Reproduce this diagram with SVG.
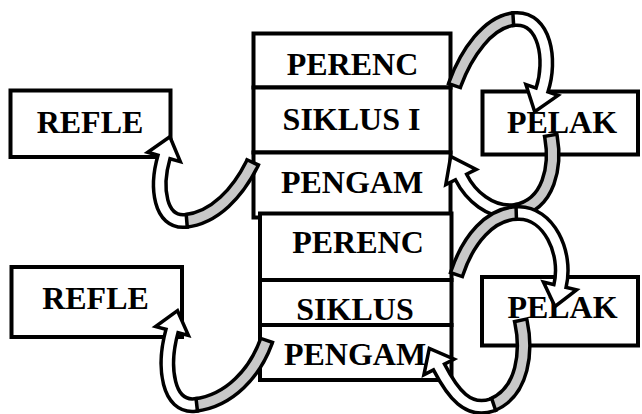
<svg xmlns="http://www.w3.org/2000/svg" width="642" height="414" viewBox="0 0 642 414">
  <style>
    .box { fill: #fff; stroke: #000; stroke-width: 4; }
    .lbl { font-family: "Liberation Serif", "Times New Roman", serif; font-weight: bold; font-size: 32px; text-anchor: middle; fill: #000; }
    .rim { fill: none; stroke: #000; stroke-width: 16; }
    .back { fill: none; stroke: #c8c8c8; stroke-width: 9; }
    .front { fill: none; stroke: #fff; stroke-width: 9; }
    .head { fill: #fff; stroke: #000; stroke-width: 3.5; stroke-linejoin: miter; }
  </style>

  <rect width="642" height="414" fill="#fff"/>

  <!-- cycle I -->
  <g id="perenc1"><rect class="box" x="253.5" y="33.5" width="197" height="54"/><text class="lbl" x="352.5" y="75">PERENC</text></g>
  <g id="siklus1"><rect class="box" x="253.5" y="87.5" width="197" height="65"/><text class="lbl" x="351.5" y="130">SIKLUS I</text></g>
  <g id="pengam1"><rect class="box" x="253.5" y="152.5" width="197" height="65"/><text class="lbl" x="352" y="193">PENGAM</text></g>
  <g id="refle1"><rect class="box" x="10.5" y="90.5" width="160" height="66.5"/><text class="lbl" x="90" y="133">REFLE</text></g>
  <g id="pelak1"><rect class="box" x="482.5" y="91.5" width="155.5" height="63"/><text class="lbl" x="562" y="133">PELAK</text></g>

  <!-- cycle II -->
  <g id="perenc2"><rect class="box" x="260" y="213.5" width="191.5" height="66.5"/><text class="lbl" x="358" y="253">PERENC</text></g>
  <g id="siklus2"><rect class="box" x="260" y="280" width="191.5" height="45"/><text class="lbl" x="355" y="320">SIKLUS</text></g>
  <g id="pengam2"><rect class="box" x="260" y="325" width="191.5" height="55"/><text class="lbl" x="355" y="365">PENGAM</text></g>
  <g id="refle2"><rect class="box" x="11.5" y="267" width="170.5" height="70"/><text class="lbl" x="95.5" y="309">REFLE</text></g>
  <g id="pelak2"><rect class="box" x="482" y="277" width="156" height="68.5"/><text class="lbl" x="562.5" y="318">PELAK</text></g>

  <!-- curved ribbon arrows: grey back half, white front half, open head -->
  <g id="connectors">
    <!-- PERENC I to PELAK I -->
    <g>
      <path class="rim" d="M453.9 87.3 L455 84 C466 54 488 21 515 19"/>
      <path class="back" d="M455 84 C466 54 488 21 515 19"/>
      <path class="rim" d="M511.5 19.2 L515 19 C545 17 552 60 542 90"/>
      <polygon class="head" points="546.3,91.4 558.1,95.4 534.7,111.8 525.9,84.6 537.7,88.6"/>
      <path class="front" d="M515 19 C545 17 552 60 542 90 L541 92.9"/>
    </g>
    <!-- PELAK I to PENGAM I -->
    <g>
      <path class="rim" d="M550.4 133.6 L551 137 C556 165 550 205 515 211"/>
      <path class="back" d="M551 137 C556 165 550 205 515 211"/>
      <path class="rim" d="M518.5 210.6 L515 211 C490 214 470 195 461 177"/>
      <polygon class="head" points="465,175 476.2,169.4 450.7,156.4 445.8,184.6 457,179"/>
      <path class="front" d="M515 211 C490 214 470 195 461 177 L459.7 174.3"/>
    </g>
    <!-- PERENC II to PELAK II -->
    <g>
      <path class="rim" d="M455.9 276.3 L457 273 C468 240 490 213 518 213"/>
      <path class="back" d="M457 273 C468 240 490 213 518 213"/>
      <path class="rim" d="M514.5 213.1 L518 213 C548 212 568 252 560 286"/>
      <polygon class="head" points="564.4,287 576.6,289.9 555,306.5 543.4,282.1 555.6,285"/>
      <path class="front" d="M518 213 C548 212 568 252 560 286 L559.3 288.9"/>
    </g>
    <!-- PELAK II to PENGAM II -->
    <g>
      <path class="rim" d="M520.3 318.6 L521 322 C527 350 524 392 492 405"/>
      <path class="back" d="M521 322 C527 350 524 392 492 405"/>
      <path class="rim" d="M495.3 403.9 L492 405 C468 413 453 394 439 367"/>
      <polygon class="head" points="443,364.9 454.1,359.2 429.3,348.4 423.9,374.8 435,369.1"/>
      <path class="front" d="M492 405 C468 413 453 394 439 367 L437.6 364.3"/>
    </g>
    <!-- PENGAM I to REFLE I -->
    <g>
      <path class="rim" d="M253.4 160.8 L252 164 C238 192 215 218 185 221"/>
      <path class="back" d="M252 164 C238 192 215 218 185 221"/>
      <path class="rim" d="M188.5 220.7 L185 221 C160 223 155 188 164 157"/>
      <polygon class="head" points="168.3,158.3 180.3,161.7 169.9,136.8 147.7,152.3 159.7,155.7"/>
      <path class="front" d="M185 221 C160 223 155 188 164 157 L164.8 154.1"/>
    </g>
    <!-- PENGAM II to REFLE II -->
    <g>
      <path class="rim" d="M267.1 338.7 L266 342 C255 372 230 401 195 405"/>
      <path class="back" d="M266 342 C255 372 230 401 195 405"/>
      <path class="rim" d="M198.5 404.6 L195 405 C168 408 162 368 172 331"/>
      <polygon class="head" points="176.3,332.2 188.4,335.4 177.5,310.7 155.6,326.6 167.7,329.8"/>
      <path class="front" d="M195 405 C168 408 162 368 172 331 L172.8 328.1"/>
    </g>
  </g>
</svg>
